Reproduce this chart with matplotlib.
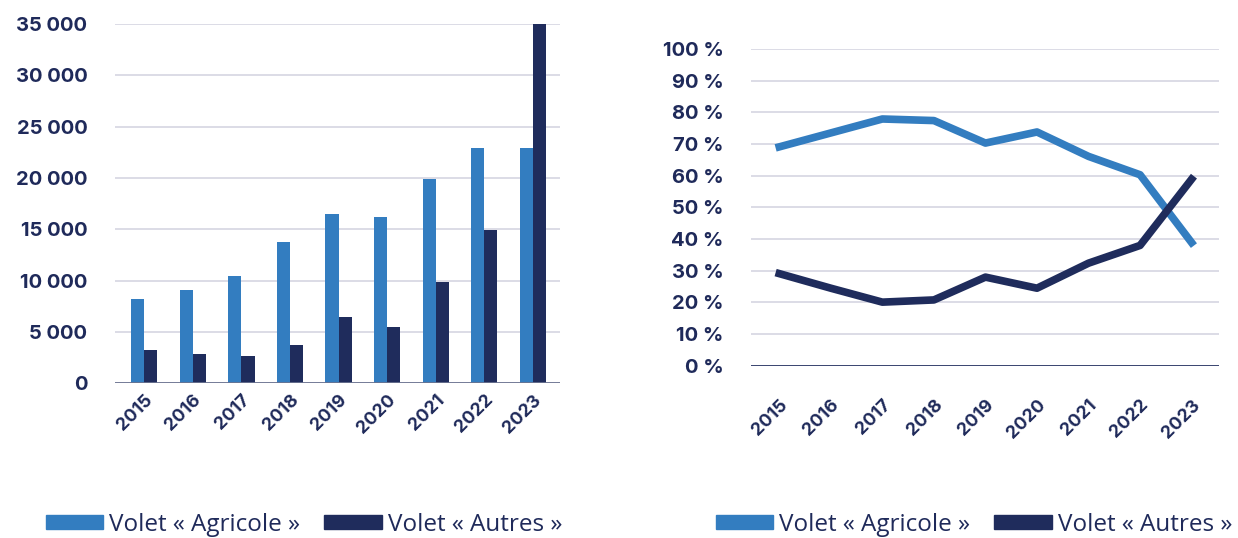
import matplotlib.pyplot as plt
from matplotlib.patches import Patch
import numpy as np

annees = ["2015", "2016", "2017", "2018", "2019", "2020", "2021", "2022", "2023"]
agricole = [8200, 9100, 10400, 13800, 16500, 16200, 19900, 22900, 22900]
autres = [3250, 2850, 2650, 3700, 6450, 5500, 9900, 14950, 35000]
part_agricole = [69.1, 73.5, 77.9, 77.4, 70.3, 73.8, 66.1, 60.3, 38.9]
part_autres = [29.1, 24.5, 20.1, 20.8, 28.0, 24.5, 32.4, 38.0, 58.9]

bleu = "#337dc0"
marine = "#1f2c5c"
texte = "#1f2a5a"
grille = "#d9d9e4"

plt.rcParams['font.family'] = ['Inter', 'DejaVu Sans']

fig = plt.figure(figsize=(12.38, 5.38), dpi=100)
ax1 = fig.add_axes([0.093, 0.288, 0.359, 0.667])
ax2 = fig.add_axes([0.607, 0.320, 0.378, 0.589])

x = np.arange(len(annees))
w = 0.27
ax1.bar(x - w/2, agricole, w, color=bleu, zorder=3)
ax1.bar(x + w/2, autres, w, color=marine, zorder=3)
ax1.set_ylim(0, 35000)
ax1.set_xlim(-0.6, 8.55)
ax1.set_yticks(range(0, 35001, 5000))
ax1.set_yticklabels([f"{v:,}".replace(",", " ") for v in range(0, 35001, 5000)])

ax2.plot(x, part_agricole, color=bleu, lw=5.5, zorder=3)
ax2.plot(x, part_autres, color=marine, lw=5.5, zorder=3)
ax2.set_ylim(0, 100)
ax2.set_xlim(-0.54, 8.54)
ax2.set_yticks(range(0, 101, 10))
ax2.set_yticklabels([f"{v} %" for v in range(0, 101, 10)])

for ax in (ax1, ax2):
    for s in ax.spines.values():
        s.set_visible(False)
    ax.grid(axis='y', color=grille, lw=1.3, zorder=0)
    ax.set_xticks(x)
    ax.set_xticklabels(annees, rotation=45, ha='right', rotation_mode='anchor',
                       fontsize=13, fontweight='bold', color=texte)
    ax.tick_params(length=0)
    ax.tick_params(axis='y', labelsize=14.5, labelcolor=texte, pad=20)
    for t in ax.get_yticklabels():
        t.set_fontweight('bold')

ax1.tick_params(axis='x', pad=6)
ax2.tick_params(axis='x', pad=22)

ax1.axhline(0, color="#6b7390", lw=2, zorder=4)
ax2.axhline(0, color=marine, lw=1.2, zorder=4)

noms = ["Volet\u00a0«\u00a0Agricole\u00a0»", "Volet\u00a0«\u00a0Autres\u00a0»"]
leg_font = {'family': ['Open Sans', 'DejaVu Sans'], 'size': 17.5}
for cx in (304 / 1238, 974 / 1238):
    h = [Patch(color=bleu), Patch(color=marine)]
    leg = fig.legend(h, noms, loc='center', bbox_to_anchor=(cx, 1 - 525 / 538), ncol=2,
                     frameon=False, prop=leg_font, handlelength=2.35, handleheight=0.5,
                     handletextpad=0.25, columnspacing=1.0)
    for t in leg.get_texts():
        t.set_color(texte)

fig.savefig("out.png", dpi=100)
